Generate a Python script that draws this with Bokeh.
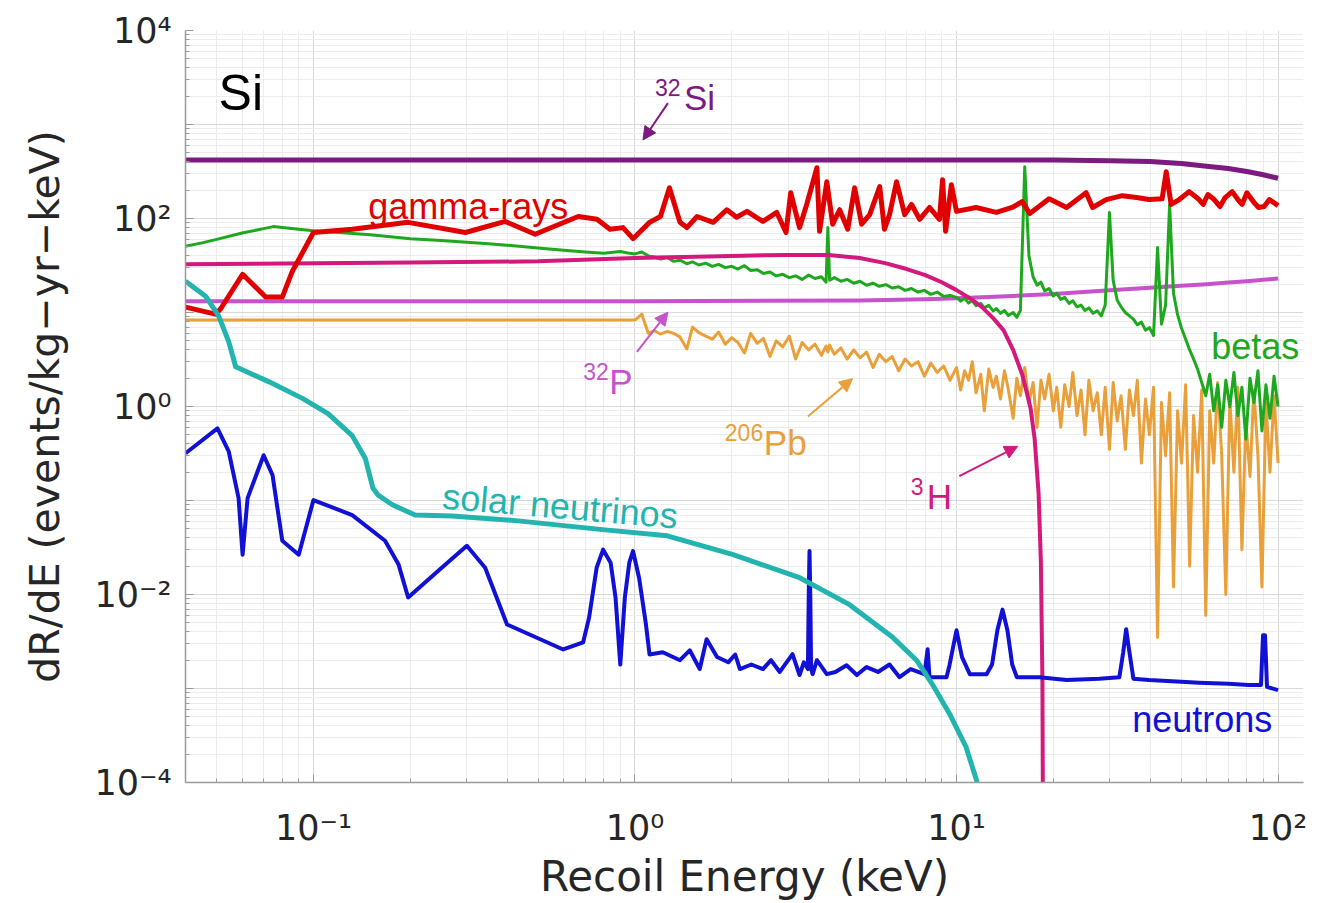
from bokeh.plotting import figure
from bokeh.models import Label, Arrow, NormalHead, FixedTicker, CustomJSTickFormatter
from bokeh.embed import file_html
from bokeh.resources import INLINE

# ---------------- background spectra in Si (keV, events/kg-yr-keV) ----------------
si32_energy = [0.04, 1, 5, 10, 20, 30, 40, 50, 60, 70, 80, 90, 100]
si32_rate = [420, 420, 420, 420, 418, 412, 403, 385, 360, 340, 316, 292, 268]

p32_energy = [0.04, 1, 5, 8, 10, 15, 20, 30, 40, 50, 60, 70, 80, 100]
p32_rate = [13.2, 13.2, 13.4, 13.8, 14.2, 15, 15.7, 17.2, 18.3, 19.2, 20, 20.8, 21.5, 23]

h3_energy = [0.04, 0.2, 0.5, 1, 2, 3, 4, 5, 6, 7, 8, 9, 10, 11, 12, 13, 14, 15, 16,
             16.5, 17, 17.5, 18, 18.3, 18.5, 18.6]
h3_rate = [32.6, 34, 35, 38, 40, 41, 41, 38, 33.5, 29, 25, 21, 17.3, 14.2, 11.4, 8.7, 6.5,
           4.0, 2.2, 1.45, 0.95, 0.45, 0.12, 0.022, 0.0012, 0.00001]

gamma_energy = [0.040, 0.0496, 0.0514, 0.0602, 0.071, 0.080, 0.086, 0.100, 0.132, 0.197,
                0.297, 0.395, 0.489, 0.666, 0.762, 0.836, 0.918, 0.986, 1.11, 1.20,
                1.28, 1.38, 1.45, 1.56, 1.75, 1.93, 2.07, 2.23, 2.50, 2.76,
                2.95, 3.05, 3.25, 3.42, 3.68, 3.75, 3.95, 4.12, 4.33, 4.59,
                4.82, 5.07, 5.37, 5.77, 5.97, 6.19, 6.51, 6.90, 7.25, 7.68,
                8.24, 8.85, 9.05, 9.25, 9.64, 10.0, 11.5, 13.3, 14.9, 16.0,
                16.9, 19.4, 22.0, 25.3, 26.5, 29.2, 32.8, 36.3, 39.7, 43.6,
                44.9, 46.5, 49.3, 52.9, 56.8, 58.5, 60.5, 63.3, 66.0, 68.5,
                72.0, 75.0, 77.3, 80.0, 84.2, 87.0, 90.5, 94.0, 100.0]
gamma_rate = [11.4, 9.6, 10.9, 25.5, 14.6, 14.6, 27.5, 71, 77, 91,
              71, 93, 68, 105, 98, 77, 80, 61, 91, 105,
              212, 91, 80, 105, 91, 124, 103, 119, 93, 116,
              71, 188, 80, 141, 347, 73, 246, 87, 124, 77,
              212, 87, 110, 218, 77, 110, 246, 110, 141, 98,
              131, 98, 259, 73, 229, 119, 131, 116, 131, 151,
              113, 162, 131, 188, 131, 159, 175, 167, 159, 162,
              314, 141, 159, 193, 159, 141, 180, 159, 134, 167,
              193, 159, 141, 188, 148, 131, 134, 159, 137]

# sampling energies of the measured beta / 206Pb spectra above 1 keV
spec_energy_1_10 = [1.00, 1.05, 1.10, 1.15, 1.20, 1.26, 1.32, 1.38, 1.45, 1.51,
                    1.58, 1.66, 1.74, 1.82, 1.91, 2.00, 2.09, 2.19, 2.29, 2.40,
                    2.51, 2.63, 2.75, 2.88, 3.02, 3.16, 3.31, 3.47, 3.63, 3.80,
                    3.93, 3.98, 4.03, 4.17, 4.37, 4.57, 4.79, 5.01, 5.25, 5.50,
                    5.75, 6.03, 6.31, 6.61, 6.92, 7.24, 7.59, 7.94, 8.32, 8.71,
                    9.12, 9.55]
spec_energy_10_100 = [10.0, 10.3, 10.6, 10.9, 11.2, 11.5, 11.9, 12.2, 12.6, 13.0,
                      13.3, 13.7, 14.1, 14.5, 15.0, 15.4, 15.8, 16.3, 16.8, 17.3,
                      17.8, 18.3, 18.8, 19.4, 20.0, 20.5, 21.1, 21.7, 22.4, 23.0,
                      23.7, 24.4, 25.1, 25.8, 26.6, 27.4, 28.2, 29.0, 29.9, 30.7,
                      31.6, 32.5, 33.5, 34.5, 35.5, 36.5, 37.6, 38.7, 39.8, 41.0,
                      42.2, 43.4, 44.7, 46.0, 47.3, 48.7, 50.1, 51.6, 53.1, 54.6,
                      56.2, 57.9, 59.6, 61.3, 63.1, 64.9, 66.8, 68.8, 70.8, 72.9,
                      75.0, 77.2, 79.4, 81.8, 84.1, 86.6, 89.1, 91.7, 94.4, 97.2,
                      100.0]

betas_energy_low = [0.040, 0.045, 0.050, 0.060, 0.070, 0.075, 0.080, 0.090, 0.100, 0.120,
                    0.150, 0.180, 0.200, 0.250, 0.300, 0.350, 0.400, 0.500, 0.600, 0.700,
                    0.800, 0.900, 0.950]
betas_rate_low = [50.6, 55, 60, 70, 78, 82, 80, 77, 74, 71,
                  67, 63, 61, 58.5, 56, 54, 52, 48.5, 46, 44,
                  42.7, 44.5, 43]
betas_rate_1_10 = [42, 44, 40, 39, 37, 38.5, 35, 36, 33, 34.5,
                   32, 33.5, 31, 32.5, 30, 31, 29, 31.5, 28, 28.5,
                   26, 27, 24.5, 25.5, 23.5, 24.5, 22.5, 25, 23, 24,
                   21, 80, 22, 23.5, 21.5, 22.5, 20.5, 21.5, 19.5, 20.5,
                   19, 19.8, 18.2, 18.8, 17.2, 18, 16.5, 17.2, 15.6, 16.5,
                   14.8, 15.2]
betas_rate_10_100 = [14.5, 13.2, 14.2, 12.6, 13.4, 11.8, 12.5, 11.2, 11.9, 10.4,
                     11.0, 9.8, 10.5, 9.3, 10.0, 8.9, 10.5, 355, 40, 24,
                     19.5, 21, 17, 18, 15, 16, 13.8, 14.5, 12.5, 13.3,
                     11.5, 12, 10.5, 11.2, 9.8, 10.4, 9.2, 12, 116, 22,
                     13.5, 11.5, 10, 9.2, 8.5, 7.4, 7.9, 6.5, 6.9, 5.7,
                     49, 7.5, 12, 141, 16, 9.5, 6.8, 5.2, 4.0, 3.2,
                     2.5, 1.8, 1.3, 2.2, 0.9, 1.7, 0.6, 1.9, 1.0, 2.3,
                     0.8, 1.6, 0.45, 2.0, 1.1, 2.4, 0.55, 1.7, 0.75, 2.1,
                     1.0]

pb206_energy_low = [0.04]
pb206_rate_low = [8.3]
pb206_rate_1_10 = [8.3, 9.6, 6.0, 6.4, 5.9, 6.3, 6.0, 5.5, 4.1, 7.0,
                   6.1, 5.6, 5.2, 6.2, 4.6, 5.4, 4.8, 3.7, 6.0, 4.7,
                   5.3, 3.4, 5.0, 4.3, 5.6, 3.2, 4.8, 4.0, 4.6, 3.5,
                   4.4, 3.8, 4.5, 3.6, 4.2, 3.2, 4.0, 3.3, 3.8, 2.6,
                   3.6, 3.0, 3.4, 2.4, 3.2, 2.7, 3.0, 2.1, 2.9, 2.3,
                   2.7, 1.9]
pb206_rate_10_100 = [2.6, 1.5, 2.4, 1.9, 3.0, 1.4, 2.2, 0.9, 2.5, 1.6,
                     2.1, 1.2, 2.4, 1.5, 0.75, 2.0, 1.3, 2.6, 1.1, 1.8,
                     0.6, 1.9, 1.2, 2.2, 0.9, 1.6, 0.6, 1.7, 1.0, 2.3,
                     0.8, 1.5, 0.5, 1.9, 0.9, 1.4, 0.5, 1.6, 0.35, 1.8,
                     0.7, 1.3, 0.35, 1.5, 0.8, 1.9, 0.25, 1.2, 0.5, 1.6,
                     0.0035, 1.1, 0.3, 1.4, 0.012, 0.9, 0.25, 1.7, 0.02, 0.8,
                     0.2, 1.5, 0.006, 0.9, 0.25, 1.8, 0.3, 0.01, 1.2, 0.2,
                     1.6, 0.03, 0.7, 0.18, 1.5, 0.3, 0.012, 1.1, 0.2, 1.3,
                     0.25]

solar_energy = [0.040, 0.0462, 0.0507, 0.0545, 0.0573, 0.0725, 0.0924, 0.111, 0.132, 0.145,
                0.153, 0.159, 0.176, 0.207, 0.270, 0.433, 0.807, 1.26, 2.02, 3.25,
                4.65, 6.33, 7.51, 8.42, 9.51, 10.7, 11.6, 12.5]
solar_rate = [21.5, 14.9, 9.2, 4.9, 2.65, 1.84, 1.22, 0.84, 0.49, 0.28,
              0.136, 0.114, 0.090, 0.070, 0.0686, 0.0607, 0.0487, 0.0421, 0.0265, 0.0151,
              0.0078, 0.0035, 0.0020, 0.0011, 0.00054, 0.00024, 0.0001, 0.00004]

neutron_energy = [0.040, 0.0503, 0.0545, 0.0585, 0.0602, 0.0624, 0.070, 0.0746, 0.080, 0.090,
                  0.100, 0.132, 0.167, 0.184, 0.197, 0.245, 0.300, 0.342, 0.400, 0.598,
                  0.690, 0.720, 0.760, 0.796, 0.840, 0.870, 0.900, 0.930, 0.960, 0.986,
                  1.03, 1.08, 1.11, 1.22, 1.38, 1.48, 1.59, 1.67, 1.80, 1.95,
                  2.05, 2.12, 2.30, 2.50, 2.65, 2.82, 3.09, 3.25, 3.35, 3.45,
                  3.47, 3.49, 3.51, 3.53, 3.57, 3.68, 3.95, 4.20, 4.55, 4.90,
                  5.25, 5.70, 6.19, 6.65, 7.20, 7.95, 8.13, 8.24, 9.00, 9.31,
                  9.51, 9.75, 10.0, 10.4, 11.0, 12.4, 12.9, 13.4, 13.9, 14.4,
                  14.9, 15.4, 18.1, 22.0, 27.8, 32.1, 33.0, 33.7, 34.5, 35.5,
                  39.7, 50.0, 56.8, 70.0, 81.3, 88.5, 89.8, 91.1, 92.4, 100.0]
neutron_rate = [0.318, 0.585, 0.334, 0.106, 0.0265, 0.106, 0.303, 0.186, 0.0373, 0.0265,
                0.101, 0.070, 0.0373, 0.0208, 0.0093, 0.018, 0.033, 0.0193, 0.0048, 0.0026,
                0.0031, 0.0057, 0.0193, 0.030, 0.0218, 0.0093, 0.0018, 0.0093, 0.0218, 0.029,
                0.015, 0.0050, 0.0023, 0.00243, 0.0020, 0.00255, 0.00161, 0.00334, 0.00216, 0.0019,
                0.0023, 0.00161, 0.0018, 0.00161, 0.0020, 0.0015, 0.00232, 0.00139, 0.0019, 0.00161,
                0.0093, 0.029, 0.0093, 0.00161, 0.00142, 0.0020, 0.00142, 0.0015, 0.00177, 0.00139,
                0.00169, 0.0015, 0.0018, 0.00132, 0.00161, 0.00142, 0.00262, 0.00132, 0.00132, 0.00132,
                0.00177, 0.0027, 0.00416, 0.00216, 0.00142, 0.00142, 0.0018, 0.00416, 0.0069, 0.00416,
                0.0018, 0.00132, 0.00132, 0.00123, 0.00127, 0.00132, 0.00243, 0.00426, 0.00243, 0.00127,
                0.00123, 0.00118, 0.00115, 0.00112, 0.00109, 0.00109, 0.00368, 0.00368, 0.00104, 0.00096]

# axis ticks and their labels
x_tick_values = [0.1, 1, 10, 100]
x_tick_labels = ["10\u207b\u00b9", "10\u2070", "10\u00b9", "10\u00b2"]
y_tick_values = [1e-4, 1e-2, 1, 1e2, 1e4]
y_tick_labels = ["10\u207b\u2074", "10\u207b\u00b2", "10\u2070", "10\u00b2", "10\u2074"]

# ---------------- styling ----------------
C_SI32 = "#7B1A80"
C_P32 = "#C652CC"
C_H3 = "#D3197B"
C_GAMMA = "#E00000"
C_BETA = "#1DA81D"
C_PB = "#E9A03A"
C_SOLAR = "#23B4B0"
C_NEUTRON = "#1111D6"
TICK_COLOR = "#262626"
AXIS_FONT = "DejaVu Sans"
NOTE_FONT = "Liberation Sans"

X_MIN, X_MAX = 0.04, 120
Y_MIN, Y_MAX = 1e-4, 1e4

p = figure(width=1341, height=903, x_axis_type="log", y_axis_type="log",
           x_range=(X_MIN, X_MAX), y_range=(Y_MIN, Y_MAX),
           output_backend="svg", toolbar_location=None,
           min_border_left=185, min_border_right=38, min_border_top=30, min_border_bottom=119)
p.outline_line_color = None
p.background_fill_color = "white"
p.border_fill_color = "white"

x_major = [10.0 ** k for k in range(-1, 3)]
x_minor = [m * 10.0 ** k for k in range(-2, 2) for m in range(2, 10) if X_MIN * 0.999 <= m * 10.0 ** k <= X_MAX]
y_major = [10.0 ** k for k in range(-4, 5)]
y_minor = [m * 10.0 ** k for k in range(-4, 4) for m in range(2, 10)]
xticker = FixedTicker(ticks=x_major, minor_ticks=x_minor)
yticker = FixedTicker(ticks=y_major, minor_ticks=y_minor)
p.xaxis.ticker = xticker
p.yaxis.ticker = yticker
p.xgrid.ticker = xticker
p.ygrid.ticker = yticker

LABEL_LOOKUP = """
for (let i = 0; i < vals.length; i++) {
    if (Math.abs(Math.log10(tick) - Math.log10(vals[i])) < 1e-6) { return labels[i]; }
}
return "";
"""
p.xaxis.formatter = CustomJSTickFormatter(args=dict(vals=x_tick_values, labels=x_tick_labels), code=LABEL_LOOKUP)
p.yaxis.formatter = CustomJSTickFormatter(args=dict(vals=y_tick_values, labels=y_tick_labels), code=LABEL_LOOKUP)

for g in (p.xgrid[0], p.ygrid[0]):
    g.grid_line_color = "#d9d9d9"
    g.grid_line_width = 1
    g.minor_grid_line_color = "#ececec"
    g.minor_grid_line_width = 1

for ax in (p.xaxis[0], p.yaxis[0]):
    ax.axis_line_color = "#9a9a9a"
    ax.axis_line_width = 1.5
    ax.major_tick_line_color = "#9a9a9a"
    ax.minor_tick_line_color = "#9a9a9a"
    ax.major_tick_in = 8
    ax.major_tick_out = 0
    ax.minor_tick_in = 4
    ax.minor_tick_out = 0
    ax.major_label_text_font = AXIS_FONT
    ax.major_label_text_font_size = "35px"
    ax.major_label_text_color = TICK_COLOR
    ax.axis_label_text_font = AXIS_FONT
    ax.axis_label_text_font_style = "normal"
    ax.axis_label_text_color = TICK_COLOR

p.xaxis.major_label_standoff = 25
p.yaxis.major_label_standoff = 14
p.xaxis.axis_label = "Recoil Energy (keV)"
p.xaxis.axis_label_text_font_size = "42px"
p.xaxis.axis_label_standoff = 1
p.yaxis.axis_label = "dR/dE (events/kg\u2212yr\u2212keV)"
p.yaxis.axis_label_text_font_size = "41px"
p.yaxis.axis_label_standoff = 22

# ---------------- spectra ----------------
p.line(pb206_energy_low + spec_energy_1_10 + spec_energy_10_100,
       pb206_rate_low + pb206_rate_1_10 + pb206_rate_10_100,
       line_color=C_PB, line_width=3, line_join="round")
p.line(p32_energy, p32_rate, line_color=C_P32, line_width=4, line_join="round")
p.line(betas_energy_low + spec_energy_1_10 + spec_energy_10_100,
       betas_rate_low + betas_rate_1_10 + betas_rate_10_100,
       line_color=C_BETA, line_width=3, line_join="round")
p.line(h3_energy, h3_rate, line_color=C_H3, line_width=4, line_join="round")
p.line(si32_energy, si32_rate, line_color=C_SI32, line_width=5, line_join="round")
p.line(gamma_energy, gamma_rate, line_color=C_GAMMA, line_width=5, line_join="round")
p.line(neutron_energy, neutron_rate, line_color=C_NEUTRON, line_width=4, line_join="round")
p.line(solar_energy, solar_rate, line_color=C_SOLAR, line_width=5, line_join="round")

# ---------------- annotations ----------------
def note(x, y, text, color, size="36px", align="left", angle=0.0, dx=0, dy=0):
    p.add_layout(Label(x=x, y=y, text=text, text_color=color, text_font=NOTE_FONT,
                       text_font_size=size, text_align=align, text_baseline="alphabetic",
                       angle=angle, x_offset=dx, y_offset=dy))


def isotope(x, y, mass, symbol, color, shift):
    note(x, y, mass, color, size="23px", dy=10)
    note(x, y, symbol, color, size="35px", dx=shift)


def pointer(x0, y0, x1, y1, color):
    p.add_layout(Arrow(x_start=x0, y_start=y0, x_end=x1, y_end=y1, line_color=color, line_width=2,
                       end=NormalHead(size=13, fill_color=color, line_color=color)))


note(0.0507, 2150, "Si", "black", size="50px")
note(0.303, 124, "gamma-rays", C_GAMMA, align="center", dy=3)
note(62.0, 4.31, "betas", C_BETA)
note(35.2, 4.64e-4, "neutrons", C_NEUTRON)
note(0.252, 0.0988, "solar neutrinos", C_SOLAR, angle=-0.085, dy=5)

isotope(1.154, 1954, "32", "Si", C_SI32, 29)
isotope(0.690, 1.84, "32", "P", C_P32, 26)
isotope(1.903, 0.416, "206", "Pb", C_PB, 39)
isotope(7.2, 0.111, "3", "H", C_H3, 16)

pointer(1.266, 1690, 1.059, 685, C_SI32)
pointer(1.014, 3.82, 1.266, 10.1, C_P32)
pointer(3.45, 0.784, 4.75, 1.98, C_PB)
pointer(10.2, 0.182, 15.5, 0.377, C_H3)

open("out.html", "w").write(file_html(p, INLINE))
